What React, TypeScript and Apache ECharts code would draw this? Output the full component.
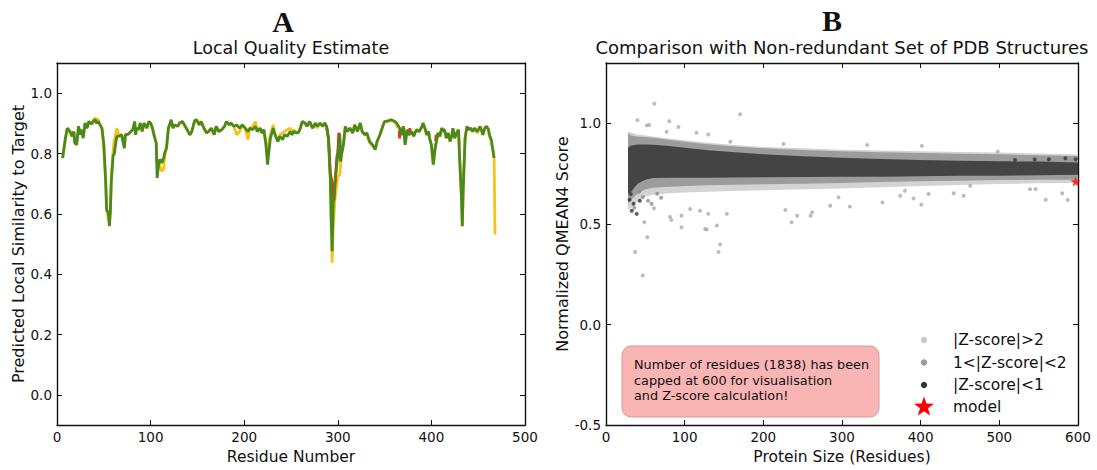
import React, { useEffect, useRef } from "react";
import * as echarts from "echarts";

// ---------- Panel A: local quality estimate ----------
const residues = [
  6, 9, 11, 14, 16, 18, 19, 21, 23, 25, 26, 28, 30, 32, 34, 37, 39, 41, 42, 44, 46, 48, 50, 52, 53, 55, 56, 57, 58, 60,
  61, 63, 64, 66, 69, 72, 73, 76, 79, 81, 83, 84, 85, 87, 89, 91, 93, 96, 98, 100, 102, 104, 106, 107, 109, 110, 112, 114, 115, 117,
  119, 121, 122, 124, 126, 129, 131, 134, 137, 139, 142, 144, 147, 149, 152, 154, 157, 160, 162, 165, 168, 170, 173, 176, 179, 181, 184, 186, 189, 192,
  195, 198, 201, 204, 206, 209, 212, 214, 217, 219, 221, 223, 225, 226, 228, 231, 233, 236, 238, 241, 243, 246, 249, 251, 253, 256, 258, 260, 262, 265,
  267, 270, 273, 276, 278, 281, 284, 286, 288, 290, 292, 293, 294, 295, 297, 299, 300, 302, 303, 304, 306, 308, 310, 313, 316, 318, 321, 324, 326, 329,
  331, 334, 337, 340, 342, 345, 348, 350, 354, 357, 361, 363, 366, 368, 370, 372, 374, 376, 379, 381, 384, 387, 390, 391, 393, 395, 397, 398, 400, 402,
  404, 406, 407, 409, 411, 413, 414, 416, 418, 420, 422, 423, 425, 427, 429, 430, 432, 433, 434, 436, 438, 440, 442, 444, 446, 449, 452, 454, 455, 457,
  459, 461, 462, 464, 467, 468,
];
const greenScores: (number | null)[] = [
  0.785, 0.851, 0.884, 0.873, 0.857, 0.873, 0.835, 0.829, 0.89, 0.862, 0.879, 0.851, 0.901, 0.884, 0.906, 0.898, 0.908, 0.912, 0.901, 0.906, 0.895, 0.884, 0.829, 0.708, 0.614, 0.603, 0.559, 0.609, 0.708, 0.796,
  0.796, 0.84, 0.857, 0.857, 0.862, 0.818, 0.862, 0.864, 0.873, 0.879, 0.906, 0.862, 0.884, 0.879, 0.901, 0.873, 0.901, 0.884, 0.906, 0.901, 0.884, 0.857, 0.835, 0.719, 0.774, 0.78, 0.769, 0.785, 0.802, 0.818,
  0.884, 0.901, 0.912, 0.884, 0.895, 0.89, 0.901, 0.906, 0.89, 0.879, 0.862, 0.873, 0.908, 0.912, 0.895, 0.906, 0.884, 0.868, 0.873, 0.884, 0.862, 0.89, 0.873, 0.879, 0.89, 0.906, 0.895, 0.901, 0.89, 0.895,
  0.884, 0.895, 0.884, 0.873, 0.884, 0.879, 0.89, 0.873, 0.884, 0.868, 0.879, 0.835, 0.763, 0.796, 0.851, 0.884, 0.862, 0.84, 0.857, 0.846, 0.862, 0.857, 0.873, 0.862, 0.873, 0.868, 0.87, 0.884, 0.906, 0.901,
  0.89, 0.906, 0.884, 0.901, 0.89, 0.901, 0.89, 0.901, 0.89, 0.851, 0.719, 0.576, 0.476, 0.631, 0.708, 0.763, 0.796, 0.862, 0.774, 0.796, 0.829, 0.89, 0.873, 0.884, 0.868, 0.895, 0.873, 0.901, 0.873, 0.862,
  0.868, 0.84, 0.829, 0.813, 0.84, 0.862, 0.89, 0.906, 0.908, 0.912, 0.906, 0.901, 0.884, 0.862, 0.89, 0.829, 0.879, 0.862, 0.873, 0.857, 0.879, 0.873, 0.89, 0.901, 0.884, 0.862, 0.873, 0.851, 0.829, 0.763,
  0.818, 0.851, 0.868, 0.857, 0.884, 0.873, 0.879, 0.851, 0.868, 0.84, 0.862, 0.884, 0.851, 0.868, 0.879, 0.796, 0.664, 0.559, 0.686, 0.851, 0.89, 0.879, 0.884, 0.873, 0.884, 0.873, 0.89, 0.873, 0.862, 0.884,
  0.89, 0.879, 0.862, 0.846, 0.785, null,
];
const yellowScores: (number | null)[] = [
  0.785, 0.851, 0.884, 0.868, 0.857, 0.873, 0.84, 0.835, 0.89, 0.868, 0.879, 0.857, 0.901, 0.884, 0.906, 0.898, 0.912, 0.918, 0.915, 0.912, 0.895, 0.884, 0.829, 0.708, 0.614, 0.58, 0.57, 0.609, 0.72, 0.81,
  0.84, 0.87, 0.884, 0.862, 0.862, 0.818, 0.862, 0.864, 0.873, 0.879, 0.906, 0.862, 0.884, 0.879, 0.901, 0.873, 0.901, 0.884, 0.906, 0.901, 0.884, 0.857, 0.835, 0.76, 0.77, 0.76, 0.741, 0.75, 0.79, 0.818,
  0.884, 0.901, 0.912, 0.884, 0.895, 0.89, 0.901, 0.906, 0.89, 0.879, 0.862, 0.873, 0.908, 0.912, 0.895, 0.906, 0.884, 0.868, 0.873, 0.884, 0.862, 0.89, 0.873, 0.879, 0.89, 0.906, 0.895, 0.901, 0.89, 0.862,
  0.873, 0.895, 0.884, 0.846, 0.884, 0.89, 0.906, 0.873, 0.884, 0.868, 0.879, 0.84, 0.79, 0.829, 0.862, 0.895, 0.862, 0.84, 0.862, 0.868, 0.873, 0.879, 0.884, 0.873, 0.879, 0.868, 0.87, 0.884, 0.906, 0.901,
  0.89, 0.906, 0.884, 0.895, 0.884, 0.901, 0.89, 0.901, 0.89, 0.851, 0.719, 0.56, 0.438, 0.55, 0.65, 0.7, 0.724, 0.73, 0.76, 0.8, 0.829, 0.89, 0.873, 0.884, 0.868, 0.895, 0.873, 0.901, 0.873, 0.862,
  0.868, 0.835, 0.829, 0.818, 0.84, 0.862, 0.89, 0.906, 0.908, 0.912, 0.906, 0.89, 0.884, 0.862, 0.89, 0.829, 0.879, 0.862, 0.873, 0.857, 0.879, 0.873, 0.89, 0.901, 0.884, 0.862, 0.873, 0.851, 0.829, 0.763,
  0.818, 0.851, 0.868, 0.857, 0.884, 0.873, 0.879, 0.851, 0.868, 0.84, 0.862, 0.884, 0.851, 0.868, 0.879, 0.796, 0.664, 0.559, 0.686, 0.851, 0.89, 0.879, 0.884, 0.873, 0.884, 0.868, 0.884, 0.873, 0.862, 0.884,
  0.89, 0.879, 0.857, 0.84, 0.785, 0.532,
];
const redSegments: number[][][] = [
  [[288, 0.89], [290, 0.851], [291, 0.8], [292, 0.735], [293, 0.72], [294, 0.7], [295, 0.67], [296, 0.645], [297, 0.7], [299, 0.79], [300, 0.8], [301, 0.868], [302, 0.862], [303, 0.774]],
  [[365.5, 0.875], [366, 0.85], [366.5, 0.875]],
  [[376.5, 0.868], [377, 0.884], [377.5, 0.868]],
  [[404.5, 0.84], [405, 0.862], [405.5, 0.845]],
  [[412.5, 0.874], [413, 0.882], [413.5, 0.874]],
];
const yTicksA = [0, 0.2, 0.4, 0.6, 0.8, 1.0];

// ---------- Panel B: comparison with PDB set ----------
const bandX = [28, 32, 40, 50, 60, 80, 100, 130, 160, 200, 250, 300, 350, 400, 450, 500, 550, 600];
const lightUpper = [0.96, 0.955, 0.945, 0.94, 0.935, 0.925, 0.916, 0.903, 0.893, 0.883, 0.876, 0.869, 0.865, 0.861, 0.858, 0.855, 0.85, 0.845];
const lightLower = [0.57, 0.58, 0.61, 0.635, 0.645, 0.652, 0.656, 0.66, 0.664, 0.668, 0.672, 0.676, 0.682, 0.688, 0.693, 0.698, 0.702, 0.704];
const midUpper = [0.95, 0.94, 0.935, 0.932, 0.928, 0.918, 0.908, 0.896, 0.886, 0.876, 0.868, 0.861, 0.856, 0.852, 0.849, 0.846, 0.842, 0.838];
const midLower = [0.6, 0.62, 0.65, 0.672, 0.68, 0.685, 0.688, 0.692, 0.695, 0.697, 0.7, 0.704, 0.708, 0.712, 0.715, 0.718, 0.72, 0.72];
const darkUpper = [0.88, 0.89, 0.895, 0.895, 0.893, 0.888, 0.879, 0.866, 0.857, 0.846, 0.837, 0.829, 0.823, 0.818, 0.814, 0.811, 0.81, 0.806];
const darkLower = [0.65, 0.66, 0.7, 0.72, 0.728, 0.729, 0.729, 0.73, 0.731, 0.732, 0.733, 0.734, 0.735, 0.737, 0.739, 0.74, 0.742, 0.745];

const lightPoints = [
  [61.5, 1.097], [170.5, 1.045], [40, 1.016], [52, 0.99], [55, 0.992], [80.5, 1.011], [92, 0.982], [77, 0.958], [115, 0.953], [130, 0.945],
  [158, 0.909], [225.6, 0.898], [37, 0.36], [46.7, 0.244], [52.5, 0.434], [48.7, 0.508], [143, 0.36], [145, 0.398], [141, 0.492], [126, 0.475],
  [128, 0.472], [96, 0.484], [81.4, 0.535], [83, 0.52], [236, 0.508], [243, 0.541], [260, 0.541], [262, 0.558], [228, 0.569], [119.6, 0.566],
  [130, 0.55], [153.6, 0.55], [107, 0.574], [61, 0.578], [96, 0.541], [285, 0.59], [332, 0.893], [401.6, 0.888], [498, 0.86], [310, 0.586],
  [351.5, 0.607], [400.8, 0.596], [391, 0.627], [559, 0.62], [587, 0.619], [580, 0.652], [546, 0.673], [539, 0.673], [454.6, 0.64], [442, 0.652],
  [410, 0.649], [374, 0.64], [380, 0.665], [295.6, 0.632], [463, 0.69],
];
const midPoints = [[47, 0.634], [53.4, 0.615], [36, 0.58], [42, 0.66], [58, 0.6], [70, 0.63], [65, 0.65]];
const darkPoints = [[32.7, 0.566], [39, 0.55], [31.4, 0.649], [43, 0.615], [35, 0.6], [30, 0.62], [584, 0.826], [597, 0.822], [563, 0.822], [545, 0.82], [520, 0.818]];
const modelPoint = [[597, 0.711]];
const yTicksB = [-0.5, 0, 0.5, 1.0];

const legendNames = ["|Z-score|>2", "1<|Z-score|<2", "|Z-score|<1", "model"];
const noteLines = ["Number of residues (1838) has been", "capped at 600 for visualisation", "and Z-score calculation!"];

const FONT = "DejaVu Sans";
const STAR = "path://M0,-10L2.35,-3.24L9.51,-3.09L3.8,1.24L5.88,8.09L0,4L-5.88,8.09L-3.8,1.24L-9.51,-3.09L-2.35,-3.24Z";

function starPoints(cx: number, cy: number, R: number, r: number) {
  const pts: number[][] = [];
  for (let i = 0; i < 10; i++) {
    const a = -Math.PI / 2 + (i * Math.PI) / 5;
    const rad = i % 2 === 0 ? R : r;
    pts.push([cx + rad * Math.cos(a), cy + rad * Math.sin(a)]);
  }
  return pts;
}

const frameLine = { show: true, onZero: false, lineStyle: { color: "#111", width: 1.4 } };
const tickStyle = { show: true, inside: true, length: 5, lineStyle: { color: "#111", width: 1 } };

function xAxis(grid: number, max: number, position: string, name: string, labels: boolean) {
  return {
    type: "value", gridIndex: grid, min: 0, max, interval: 100, position,
    axisLine: frameLine, axisTick: tickStyle, splitLine: { show: false },
    axisLabel: { show: labels, margin: 5, fontSize: 13.5, color: "#111", fontFamily: FONT },
    name: labels ? name : "", nameLocation: "middle", nameGap: 22,
    nameTextStyle: { fontSize: 15.5, color: "#111", fontFamily: FONT },
  };
}
function yAxis(grid: number, min: number, max: number, ticks: number[], position: string, name: string, labels: boolean, gap: number) {
  return {
    type: "value", gridIndex: grid, min, max, position,
    axisLine: frameLine,
    axisTick: { ...tickStyle, customValues: ticks },
    splitLine: { show: false },
    axisLabel: { show: labels, customValues: ticks, margin: 5, fontSize: 13.5, color: "#111", fontFamily: FONT, formatter: (v: number) => v.toFixed(1) },
    name: labels ? name : "", nameLocation: "middle", nameGap: gap, nameRotate: 90,
    nameTextStyle: { fontSize: 16, color: "#111", fontFamily: FONT },
  };
}

function band(name: string, lower: number[], upper: number[], color: string) {
  return {
    type: "custom", name, xAxisIndex: 2, yAxisIndex: 2, silent: true, clip: true,
    data: bandX.map((x, i) => [x, lower[i], upper[i]]),
    encode: { x: 0, y: [1, 2] },
    renderItem: (params: any, api: any) => {
      if (params.dataIndex !== 0) return null;
      const pts: number[][] = [];
      for (let i = 0; i < bandX.length; i++) pts.push(api.coord([bandX[i], upper[i]]));
      for (let i = bandX.length - 1; i >= 0; i--) pts.push(api.coord([bandX[i], lower[i]]));
      return { type: "polygon", shape: { points: pts }, style: { fill: color } };
    },
  };
}

function text(x: number, y: number, t: string, font: string, align = "center") {
  return { type: "text", x, y, style: { text: t, font, fill: "#111", align, textAlign: align, verticalAlign: "middle", textVerticalAlign: "middle" } };
}

function buildOption() {
  const legendY = [340, 362.5, 385, 407];
  const legendColors = ["#c8c8c8", "#999999", "#333333"];
  const graphic: any[] = [
    text(283, 21, "A", 'bold 30px "Liberation Serif"'),
    text(832, 20, "B", 'bold 30px "Liberation Serif"'),
    text(291, 48, "Local Quality Estimate", `17.5px "${FONT}"`),
    text(842, 47, "Comparison with Non-redundant Set of PDB Structures", `18px "${FONT}"`),
    {
      type: "rect", shape: { x: 622, y: 346, width: 257, height: 71, r: 9 },
      style: { fill: "#f9b4b4", stroke: "#d39a9a", lineWidth: 1 },
    },
    {
      type: "text", x: 634, y: 357,
      style: { text: noteLines.join("\n"), font: `12.8px "${FONT}"`, fill: "#111", lineHeight: 15.5, align: "left", textAlign: "left", verticalAlign: "top", textVerticalAlign: "top" },
    },
  ];
  legendColors.forEach((c, i) => {
    graphic.push({ type: "circle", shape: { cx: 924, cy: legendY[i], r: 3.2 }, style: { fill: c } });
  });
  graphic.push({ type: "polygon", shape: { points: starPoints(924, legendY[3], 10.5, 4.2) }, style: { fill: "#ff0000" } });
  legendNames.forEach((n, i) => graphic.push(text(953, legendY[i], n, `15.5px "${FONT}"`, "left")));

  const series: any[] = [
    {
      type: "line", name: "yellow", xAxisIndex: 0, yAxisIndex: 0, symbol: "none", connectNulls: false,
      data: residues.map((x, i) => [x, yellowScores[i]]),
      lineStyle: { color: "#f7c31a", width: 2.8 },
    },
    ...redSegments.map((seg, k) => ({
      type: "line", name: "red" + k, xAxisIndex: 0, yAxisIndex: 0, symbol: "none",
      data: seg, lineStyle: { color: "#e8321e", width: 2.8 },
    })),
    {
      type: "line", name: "green", xAxisIndex: 0, yAxisIndex: 0, symbol: "none", connectNulls: false,
      data: residues.map((x, i) => [x, greenScores[i]]),
      lineStyle: { color: "#4a8a1c", width: 2.8 },
    },
    band("light band", lightLower, lightUpper, "#d3d3d3"),
    band("mid band", midLower, midUpper, "#9c9c9c"),
    band("dark band", darkLower, darkUpper, "#444444"),
    { type: "scatter", name: legendNames[0], xAxisIndex: 2, yAxisIndex: 2, data: lightPoints, symbolSize: 4, itemStyle: { color: "#ababab" } },
    { type: "scatter", name: legendNames[1], xAxisIndex: 2, yAxisIndex: 2, data: midPoints, symbolSize: 4, itemStyle: { color: "#8c8c8c" } },
    { type: "scatter", name: legendNames[2], xAxisIndex: 2, yAxisIndex: 2, data: darkPoints, symbolSize: 4, itemStyle: { color: "#333333" } },
    { type: "scatter", name: legendNames[3], xAxisIndex: 2, yAxisIndex: 2, data: modelPoint, symbol: STAR, symbolSize: 10, itemStyle: { color: "#ff0000" } },
  ];

  return {
    animation: false,
    backgroundColor: "#ffffff",
    textStyle: { fontFamily: FONT },
    grid: [
      { left: 57, top: 63, width: 468, height: 363 },
      { left: 606, top: 63, width: 472, height: 364 },
    ],
    xAxis: [
      xAxis(0, 500, "bottom", "Residue Number", true),
      xAxis(0, 500, "top", "", false),
      xAxis(1, 600, "bottom", "Protein Size (Residues)", true),
      xAxis(1, 600, "top", "", false),
    ],
    yAxis: [
      yAxis(0, -0.1, 1.1, yTicksA, "left", "Predicted Local Similarity to Target", true, 31),
      yAxis(0, -0.1, 1.1, yTicksA, "right", "", false, 0),
      yAxis(1, -0.5, 1.3, yTicksB, "left", "Normalized QMEAN4 Score", true, 31),
      yAxis(1, -0.5, 1.3, yTicksB, "right", "", false, 0),
    ],
    series,
    graphic,
  };
}

export default function App() {
  const ref = useRef<HTMLDivElement>(null);
  useEffect(() => {
    const chart = echarts.init(ref.current as HTMLDivElement, null, { renderer: "svg" });
    chart.setOption(buildOption() as any);
    return () => chart.dispose();
  }, []);
  return (
    <div
      ref={ref}
      style={{ position: "absolute", left: 0, top: 0, width: 1097, height: 470, background: "#fff" }}
    />
  );
}
